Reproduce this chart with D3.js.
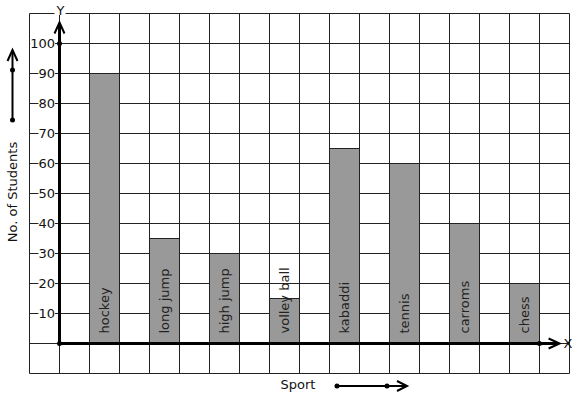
<!DOCTYPE html>
<html><head><meta charset="utf-8">
<script src="https://cdn.jsdelivr.net/npm/d3@7"></script>
<style>
html,body{margin:0;padding:0;background:#fff;}
text{font-family:"DejaVu Sans",sans-serif;}
</style></head>
<body><svg id="c" width="577" height="399"></svg>
<script>
const categories = ["hockey","long jump","high jump","volley ball","kabaddi","tennis","carroms","chess"];
const students = [90,35,30,15,65,60,40,20];
const yTicks = [10,20,30,40,50,60,70,80,90,100];
const yTitle = "No. of Students";
const xTitle = "Sport";

const svg = d3.select("#c");
// grid columns: 18 columns of equal width; values -10..110
const col = d3.scaleLinear().domain([0,18]).range([29.5,569.5]);
const y = d3.scaleLinear().domain([-10,110]).range([373.5,13.5]);
const xBand = d3.scaleBand().domain(categories)
  .range([col(2), col(18)]).paddingInner(0.5).paddingOuter(0.25).align(0);

const ink = "#222";
// grid
const g = svg.append("g").attr("stroke", ink).attr("stroke-width",1);
d3.range(0,19).forEach(i=>{
  g.append("line").attr("x1",col(i)).attr("x2",col(i)).attr("y1",y(-10)).attr("y2",y(110));
});
d3.range(-10,111,10).forEach(v=>{
  g.append("line").attr("x1",col(0)).attr("x2",col(18)).attr("y1",y(v)).attr("y2",y(v));
});

// bars
svg.append("g").selectAll("rect").data(categories).join("rect")
  .attr("x", d=>xBand(d)).attr("width", xBand.bandwidth())
  .attr("y", (d,i)=>y(students[i])).attr("height",(d,i)=>y(0)-y(students[i]))
  .attr("fill","#999").attr("stroke",ink).attr("stroke-width",1);

// bar labels
svg.append("g").selectAll("text").data(categories).join("text")
  .attr("transform", d=>`translate(${xBand(d)+xBand.bandwidth()/2+4.5},${y(0)-10}) rotate(-90)`)
  .attr("font-size",13).attr("fill","#222").text(d=>d);

// axes
const x0 = col(1), y0 = y(0);
svg.append("line").attr("x1",x0).attr("x2",x0).attr("y1",y0).attr("y2",y(107)+1)
  .attr("stroke","#000").attr("stroke-width",3);
svg.append("line").attr("x1",x0).attr("x2",col(17.6)).attr("y1",y0).attr("y2",y0)
  .attr("stroke","#000").attr("stroke-width",3);
// arrowheads
const tipY = y(107);
svg.append("path").attr("d",`M${x0-5},${tipY+11}L${x0},${tipY}L${x0+5},${tipY+11}`)
  .attr("fill","none").attr("stroke","#000").attr("stroke-width",2);
const tipX = col(17.67);
svg.append("path").attr("d",`M${tipX-11},${y0-5}L${tipX},${y0}L${tipX-11},${y0+5}`)
  .attr("fill","none").attr("stroke","#000").attr("stroke-width",2);
// dots
[[x0,y0],[x0,y(100)],[col(17),y0]].forEach(p=>{
  svg.append("circle").attr("cx",p[0]).attr("cy",p[1]).attr("r",2.5).attr("fill","#000");
});

// tick labels with white background
const tl = svg.append("g");
yTicks.forEach(v=>{
  const t = tl.append("text").attr("x",55).attr("y",y(v)).attr("text-anchor","end")
    .attr("dominant-baseline","central").attr("font-size",13).attr("fill","#111").text(v);
  const b = t.node().getBBox();
  tl.insert("rect","text").attr("x",b.x).attr("y",y(v)-1.5).attr("width",b.width).attr("height",3).attr("fill","#fff");
});

// axis letters
const yg = svg.append("g");
const yl = yg.append("text").attr("x",x0+1).attr("y",10).attr("text-anchor","middle")
  .attr("dominant-baseline","central").attr("font-size",13).attr("fill","#111").text("Y");
const yb = yl.node().getBBox();
yg.insert("rect","text").attr("x",yb.x-1).attr("y",12).attr("width",yb.width+2).attr("height",3).attr("fill","#fff");
svg.append("text").attr("x",568).attr("y",y0).attr("text-anchor","middle")
  .attr("dominant-baseline","central").attr("font-size",13).attr("fill","#111").text("X");

// y title + arrow
svg.append("text").attr("transform",`translate(17,192) rotate(-90)`).attr("text-anchor","middle")
  .attr("font-size",13).attr("fill","#111").text(yTitle);
svg.append("line").attr("x1",12.5).attr("x2",12.5).attr("y1",120).attr("y2",51).attr("stroke","#000").attr("stroke-width",2);
svg.append("path").attr("d","M7.5,61L12.5,50L17.5,61").attr("fill","none").attr("stroke","#000").attr("stroke-width",2);
[70,120].forEach(cy=>svg.append("circle").attr("cx",12.5).attr("cy",cy).attr("r",2.5).attr("fill","#000"));

// x title + arrow
svg.append("text").attr("x",298).attr("y",389).attr("text-anchor","middle")
  .attr("font-size",13).attr("fill","#111").text(xTitle);
svg.append("line").attr("x1",337).attr("x2",406).attr("y1",386).attr("y2",386).attr("stroke","#000").attr("stroke-width",2);
svg.append("path").attr("d","M397,381L407,386L397,391").attr("fill","none").attr("stroke","#000").attr("stroke-width",2);
[337,387].forEach(cx=>svg.append("circle").attr("cx",cx).attr("cy",386).attr("r",2.5).attr("fill","#000"));
</script></body></html>
